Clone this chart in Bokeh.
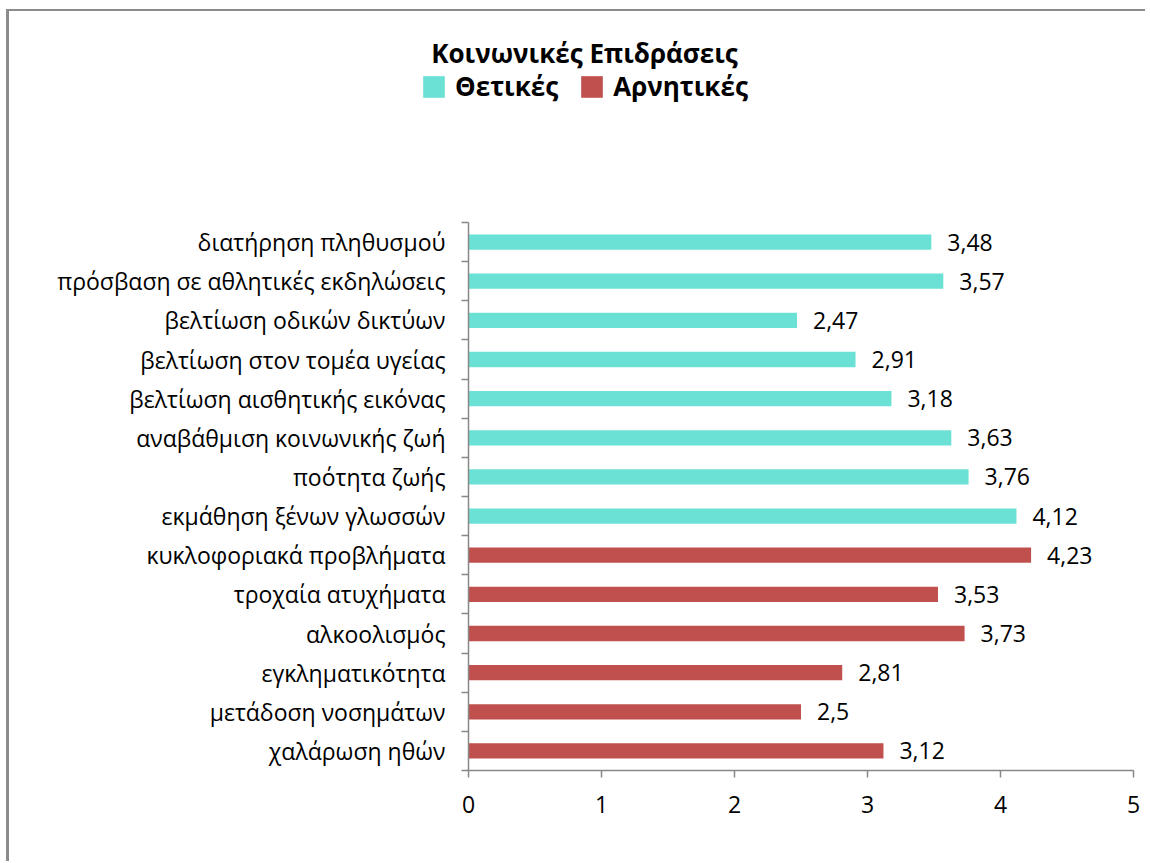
from bokeh.plotting import figure
from bokeh.models import (Range1d, FixedTicker, ColumnDataSource, Legend, LegendItem, Label)
from bokeh.embed import file_html
from bokeh.resources import INLINE
from bokeh.core.properties import value

# ---- data (top to bottom as displayed) ----
pos_categories = ["διατήρηση πληθυσμού", "πρόσβαση σε αθλητικές εκδηλώσεις",
                  "βελτίωση οδικών δικτύων", "βελτίωση στον τομέα υγείας",
                  "βελτίωση αισθητικής εικόνας", "αναβάθμιση κοινωνικής ζωή",
                  "ποότητα ζωής", "εκμάθηση ξένων γλωσσών"]
pos_values = [3.48, 3.57, 2.47, 2.91, 3.18, 3.63, 3.76, 4.12]
neg_categories = ["κυκλοφοριακά προβλήματα", "τροχαία ατυχήματα", "αλκοολισμός",
                  "εγκληματικότητα", "μετάδοση νοσημάτων", "χαλάρωση ηθών"]
neg_values = [4.23, 3.53, 3.73, 2.81, 2.5, 3.12]
x_ticks = [0, 1, 2, 3, 4, 5]
series_names = ["Θετικές", "Αρνητικές"]
title_text = "Κοινωνικές Επιδράσεις"

POS_COLOR = "#6BE1D5"
NEG_COLOR = "#C0504D"
AXIS_COLOR = "#888888"
BORDER = "#8c8c8c"
FONT = "Open Sans"
LABEL_SIZE = "23px"

all_cats = pos_categories + neg_categories
n = len(all_cats)
ypos = {c: n - 1 - i for i, c in enumerate(all_cats)}

def fmt(v):
    return ("%g" % v).replace(".", ",")

pos_src = ColumnDataSource(dict(y=[ypos[c] for c in pos_categories], v=pos_values,
                                lab=[fmt(v) for v in pos_values]))
neg_src = ColumnDataSource(dict(y=[ypos[c] for c in neg_categories], v=neg_values,
                                lab=[fmt(v) for v in neg_values]))

W = 1139
HEAD_H = 150
bar_h = 0.39

# ---- header figure: title + legend ----
head = figure(width=W, height=HEAD_H, output_backend="svg", toolbar_location=None,
              x_axis_type=None, y_axis_type=None,
              x_range=Range1d(100, 101), y_range=Range1d(100, 101),
              min_border=0, min_border_left=0, min_border_right=0,
              min_border_top=0, min_border_bottom=0)
head.grid.visible = False
head.outline_line_color = None
head.styles = {"margin-left": "6px", "margin-top": "9px",
               "border-left": f"3px solid {BORDER}", "border-top": f"2px solid {BORDER}"}
h_pos = head.hbar(y="y", right="v", left=0, height=bar_h, source=pos_src,
                  fill_color=POS_COLOR, line_color=None)
h_neg = head.hbar(y="y", right="v", left=0, height=bar_h, source=neg_src,
                  fill_color=NEG_COLOR, line_color=None)
head.add_layout(Label(x=575, y=HEAD_H - 41, x_units="screen", y_units="screen",
                      text=title_text, text_align="center", text_baseline="middle",
                      text_font=FONT, text_font_size="26px", text_font_style="bold",
                      text_color="black"))
legend = Legend(items=[LegendItem(label=series_names[0], renderers=[h_pos]),
                       LegendItem(label=series_names[1], renderers=[h_neg])],
                orientation="horizontal", location=(411, HEAD_H - 93),
                glyph_width=27, glyph_height=27, label_text_font=FONT,
                label_text_font_size="26px", label_text_font_style="bold",
                label_text_color="black",
                label_standoff=8, spacing=20, padding=0, margin=0,
                border_line_color=None, background_fill_alpha=0)
head.add_layout(legend, "center")

# ---- main chart ----
p = figure(width=W, height=852 - HEAD_H, output_backend="svg", toolbar_location=None,
           x_range=Range1d(0, 5), y_range=Range1d(-0.5, n - 0.5),
           min_border_left=459, min_border_right=15, min_border_top=222 - 9 - HEAD_H,
           min_border_bottom=91)
p.styles = {"margin-left": "6px", "border-left": f"3px solid {BORDER}"}

p.hbar(y="y", right="v", left=0, height=bar_h, source=pos_src,
       fill_color=POS_COLOR, line_color=None)
p.hbar(y="y", right="v", left=0, height=bar_h, source=neg_src,
       fill_color=NEG_COLOR, line_color=None)

for src in (pos_src, neg_src):
    p.text(x="v", y="y", text="lab", source=src, x_offset=16, text_baseline="middle",
           text_font=value(FONT), text_font_size=LABEL_SIZE, text_color="black")

p.grid.visible = False
p.outline_line_color = None

xa = p.xaxis[0]
xa.ticker = FixedTicker(ticks=x_ticks)
xa.axis_line_color = AXIS_COLOR
xa.axis_line_width = 1.5
xa.major_tick_line_color = AXIS_COLOR
xa.major_tick_line_width = 1.5
xa.major_tick_out = 7
xa.major_tick_in = 0
xa.minor_tick_line_color = None
xa.major_label_text_font = FONT
xa.major_label_text_font_size = LABEL_SIZE
xa.major_label_text_color = "black"
xa.major_label_standoff = 18

ya = p.yaxis[0]
ya.ticker = FixedTicker(ticks=list(range(n)), minor_ticks=[i - 0.5 for i in range(n + 1)])
ya.major_label_overrides = {ypos[c]: c for c in all_cats}
ya.axis_line_color = AXIS_COLOR
ya.axis_line_width = 1.5
ya.major_tick_line_color = None
ya.major_tick_out = 0
ya.major_tick_in = 0
ya.minor_tick_line_color = AXIS_COLOR
ya.minor_tick_line_width = 1.5
ya.minor_tick_out = 7
ya.minor_tick_in = 0
ya.major_label_text_font = FONT
ya.major_label_text_font_size = LABEL_SIZE
ya.major_label_text_color = "black"
ya.major_label_standoff = 16

open("out.html", "w").write(file_html([head, p], INLINE))
